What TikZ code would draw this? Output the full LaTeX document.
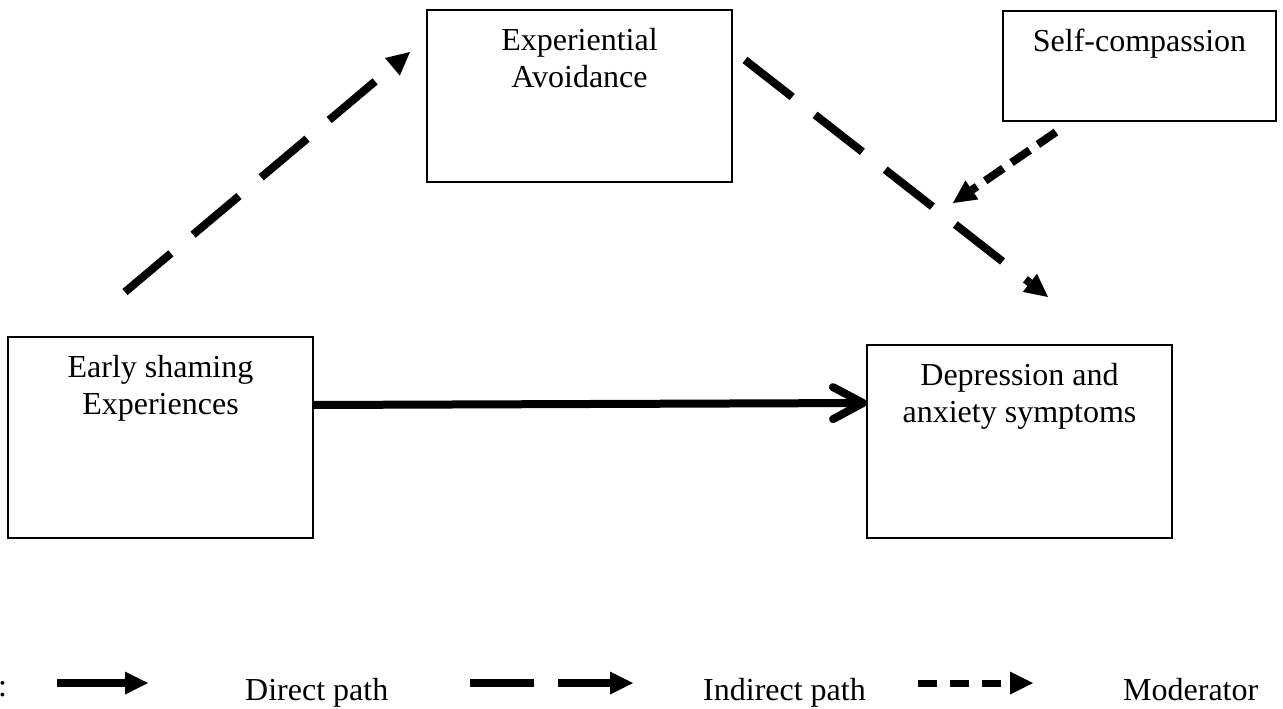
\documentclass[tikz,border=0pt]{standalone}
\usepackage{fontspec}
\setmainfont{Liberation Serif}
\usetikzlibrary{arrows.meta,calc}
\begin{document}
\begin{tikzpicture}[x=1pt,y=-1pt,
  varbox/.style={draw, line width=1.5pt, outer sep=0pt, inner sep=0pt, anchor=north west},
  boxtext/.style={anchor=north, inner sep=0pt, align=center, font=\fontsize{32}{36.8}\selectfont},
  legtext/.style={anchor=base west, inner sep=0pt, font=\fontsize{32}{36.8}\selectfont},
  head/.style={-{Triangle[length=23pt,width=23pt,line width=0pt]}},
  directpath/.style={line width=8pt, -{Straight Barb[length=30pt,width=32pt,round]}},
  indirectpath/.style={line width=8pt, dash pattern=on 60pt off 29pt, head},
  modpath/.style={line width=8pt, dash pattern=on 22pt off 10pt, head},
]
\useasboundingbox (0,0) rectangle (1283,709);

% boxes
\node[varbox, minimum width=305pt, minimum height=201pt] (early) at (8,337) {};
\node[varbox, minimum width=305pt, minimum height=172pt] (avoid) at (427,10) {};
\node[varbox, minimum width=273pt, minimum height=110pt] (selfc) at (1003,11) {};
\node[varbox, minimum width=305pt, minimum height=193pt] (dep) at (867,345) {};

% box captions
\node[boxtext] (earlyT) at ($(early.north)+(0,18)$) {Early shaming\\Experiences};
\node[boxtext] (avoidT) at ($(avoid.north)+(0,18)$) {Experiential\\Avoidance};
\node[boxtext] (selfcT) at ($(selfc.north)+(0,18)$) {Self-compassion};
\node[boxtext] (depT) at ($(dep.north)+(0,18)$) {Depression and\\anxiety symptoms};

% paths
\draw[directpath] ($(early.north east)+(0,68)$) -- ($(dep.north west)+(0,58)$);
\draw[indirectpath] ($(early.north west)+(117,-45)$) -- ($(avoid.north west)+(-17,42)$);
\draw[indirectpath] ($(avoid.north east)+(13,50)$) -- ($(dep.north west)+(181,-48)$);
\draw[modpath] ($(selfc.south west)+(53,11)$) -- ($(selfc.south west)+(-50,82)$);

% legend
\node[legtext] (colon) at (-2,696) {:};
\coordinate (la) at (57,683);
\coordinate (lb) at (148,683);
\draw[line width=8pt, head] (la) -- (lb);
\node[legtext] (ldirect) at (245,700) {Direct path};
\coordinate (lc) at (470,683);
\coordinate (ld) at (633,683);
\draw[line width=8pt, dash pattern=on 64pt off 24pt, head] (lc) -- (ld);
\node[legtext] (lindirect) at (703,700) {Indirect path};
\coordinate (le) at (918,683);
\coordinate (lf) at (1033,683);
\draw[line width=7pt, dash pattern=on 19pt off 13pt, head] (le) -- (lf);
\node[legtext] (lmod) at (1123,700) {Moderator};
\end{tikzpicture}
\end{document}
